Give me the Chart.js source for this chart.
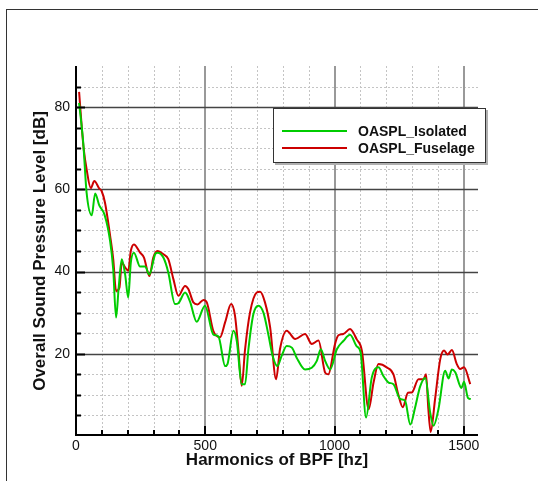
<!DOCTYPE html>
<html lang="en">
<head>
    <meta charset="UTF-8">
    <title>OASPL</title>
    <script src="https://cdn.jsdelivr.net/npm/chart.js"></script>
    <style>
        body { margin: 0; background: #fff; }
        #frame { position: absolute; left: 6px; top: 9px; width: 600px; height: 600px;
                 border-left: 1px solid #333; border-top: 1px solid #333; }
        #oaspl { position: absolute; left: 0; top: 0; }
    </style>
</head>
<body>
    <div id="frame"></div>
    <canvas id="oaspl" width="538" height="481"></canvas>
    <script>
        // Isolated rotor
        const isoFreq = [12, 28, 41, 61, 74, 90, 110, 132, 144, 155, 165, 177, 190, 202, 212, 224, 248, 267, 284, 306,
            315, 338, 357, 383, 396, 422, 441, 467, 499, 531, 551, 577, 586, 609, 622, 641, 654, 667, 686, 706,
            725, 744, 761, 779, 796, 815, 835, 854, 886, 912, 931, 947, 964, 983, 1009, 1034, 1060, 1086, 1101, 1122,
            1144, 1170, 1189, 1209, 1228, 1254, 1273, 1293, 1312, 1331, 1351, 1370, 1383, 1402, 1428, 1441, 1454, 1467, 1491, 1501,
            1516, 1527];
        const isoLevel = [81, 71.3, 59.2, 53.7, 59, 56.1, 53.9, 47.4, 40.5, 28.8, 36, 43, 39.3, 33.7, 42.2, 44.6, 41.2, 41.2, 39.3, 44.2,
            44.6, 43.4, 39.8, 32.1, 32.3, 34.9, 32.7, 27.8, 31.7, 24.7, 24.2, 17, 17.5, 25.6, 23.1, 12.6, 12.6, 21.1, 29.6, 31.7,
            30, 24.7, 19.4, 17, 19.6, 21.9, 21.5, 19, 16.2, 16.6, 18.2, 21.1, 18.2, 16.2, 21.1, 23.1, 24.6, 21.8, 20.3, 4.5,
            14.2, 16.7, 14.6, 13, 12.6, 9, 8.6, 2.8, 7, 12, 14.1, 5.7, 2.5, 6.5, 15.9, 14, 16.2, 15.5, 11.7, 13.2,
            9.3, 9];

        // Rotor with fuselage
        const fusFreq = [12, 22, 30, 41, 57, 71, 90, 99, 112, 132, 144, 155, 168, 177, 190, 202, 212, 224, 248, 263,
            284, 299, 315, 338, 357, 377, 396, 422, 435, 454, 470, 493, 506, 531, 557, 577, 600, 615, 628, 641,
            654, 673, 699, 712, 731, 751, 774, 789, 815, 848, 886, 912, 938, 964, 976, 1002, 1015, 1034, 1060, 1086,
            1106, 1132, 1151, 1170, 1202, 1228, 1247, 1264, 1284, 1299, 1325, 1344, 1354, 1363, 1372, 1389, 1409, 1424, 1437, 1454,
            1473, 1486, 1501, 1525];
        const fusLevel = [83.7, 75.4, 69.7, 64.9, 60.3, 62, 60.2, 59.6, 56.8, 48.7, 43, 35.3, 36.1, 42.2, 41, 40.2, 45, 46.6, 44.6, 43.4,
            38.9, 43.4, 45, 44.2, 43, 38.1, 34.1, 36.5, 35.7, 32.5, 32, 33.1, 32.5, 25.6, 24, 27.7, 32.1, 29.3, 21.1, 12.2,
            21.1, 30, 34.9, 35.1, 32.5, 26.4, 13.8, 21.1, 25.6, 23.6, 24.8, 22.4, 23.2, 15.4, 15, 22.4, 24.5, 24.8, 26, 23.5,
            20.7, 6.5, 13, 17.5, 16.7, 15, 10, 7, 10.5, 10.6, 13.8, 13.8, 15, 6.5, 1, 9, 18.7, 20.8, 19.8, 20.9,
            17.5, 16.3, 16.7, 12.6];

        const xTicks = [0, 500, 1000, 1500];
        const yTicks = [20, 40, 60, 80];
        const xMinorStep = 100, xMajorStep = 500;
        const yMinorStep = 5, yMajorStep = 20;
        const font = 'Liberation Sans, Arial, sans-serif';

        function pts(xs, ys) {
            return xs.map((x, i) => ({ x: x, y: ys[i] }));
        }

        // grid lines: dotted minor, solid major
        const gridPlugin = {
            id: 'grid',
            beforeDatasetsDraw(chart) {
                const { ctx, chartArea: a, scales: { x, y } } = chart;
                ctx.save();
                ctx.lineWidth = 1;
                ctx.strokeStyle = '#c4c4c4';
                ctx.setLineDash([2, 2]);
                for (let v = xMinorStep; v < x.max; v += xMinorStep) {
                    if (v % xMajorStep === 0) continue;
                    const px = Math.round(x.getPixelForValue(v)) + 0.5;
                    ctx.beginPath(); ctx.moveTo(px, a.top); ctx.lineTo(px, a.bottom); ctx.stroke();
                }
                for (let v = yMinorStep; v < y.max; v += yMinorStep) {
                    if (v % yMajorStep === 0) continue;
                    const py = Math.round(y.getPixelForValue(v)) + 0.5;
                    ctx.beginPath(); ctx.moveTo(a.left, py); ctx.lineTo(a.right, py); ctx.stroke();
                }
                ctx.setLineDash([]);
                ctx.strokeStyle = '#999';
                ctx.lineWidth = 2;
                for (let v = xMajorStep; v < x.max; v += xMajorStep) {
                    const px = Math.round(x.getPixelForValue(v));
                    ctx.beginPath(); ctx.moveTo(px, a.top); ctx.lineTo(px, a.bottom); ctx.stroke();
                }
                ctx.strokeStyle = '#444';
                ctx.lineWidth = 1.3;
                for (let v = yMajorStep; v < y.max; v += yMajorStep) {
                    const py = Math.round(y.getPixelForValue(v)) + 0.5;
                    ctx.beginPath(); ctx.moveTo(a.left, py); ctx.lineTo(a.right, py); ctx.stroke();
                }
                ctx.restore();
            },
            afterDatasetsDraw(chart) {
                const { ctx, chartArea: a, scales: { x, y } } = chart;
                ctx.save();
                ctx.strokeStyle = '#000';
                ctx.lineWidth = 2;
                // axis lines
                ctx.beginPath();
                ctx.moveTo(a.left, a.top);
                ctx.lineTo(a.left, a.bottom - 1);
                ctx.lineTo(a.right, a.bottom - 1);
                ctx.stroke();
                // inside tick marks
                for (let v = xMinorStep; v < x.max; v += xMinorStep) {
                    const px = Math.round(x.getPixelForValue(v));
                    const len = v % xMajorStep === 0 ? 9 : 5;
                    ctx.beginPath(); ctx.moveTo(px, a.bottom - 1); ctx.lineTo(px, a.bottom - 1 - len); ctx.stroke();
                }
                for (let v = yMinorStep; v < y.max; v += yMinorStep) {
                    const py = Math.round(y.getPixelForValue(v)) + 0.5;
                    const len = v % yMajorStep === 0 ? 9 : 5;
                    ctx.beginPath(); ctx.moveTo(a.left, py); ctx.lineTo(a.left + len, py); ctx.stroke();
                }
                ctx.restore();
            }
        };

        // boxed legend inside the plot
        const legendBox = {
            id: 'legendBox',
            afterDraw(chart) {
                const ctx = chart.ctx;
                const bx = 273, by = 108, bw = 213, bh = 55;
                ctx.save();
                ctx.fillStyle = '#b0b0b0';
                ctx.fillRect(bx + 2, by + 2, bw, bh);
                ctx.fillStyle = '#fff';
                ctx.fillRect(bx, by, bw, bh);
                ctx.strokeStyle = '#333';
                ctx.lineWidth = 1;
                ctx.strokeRect(bx + 0.5, by + 0.5, bw - 1, bh - 1);
                ctx.font = 'bold 14px ' + font;
                ctx.textBaseline = 'middle';
                chart.data.datasets.forEach((ds, i) => {
                    const ly = 131 + i * 17;
                    ctx.strokeStyle = ds.borderColor;
                    ctx.lineWidth = 2;
                    ctx.beginPath(); ctx.moveTo(282, ly); ctx.lineTo(347, ly); ctx.stroke();
                    ctx.fillStyle = '#111';
                    ctx.fillText(ds.label, 358, ly + 1);
                });
                ctx.restore();
            }
        };

        new Chart(document.getElementById('oaspl'), {
            type: 'line',
            data: {
                datasets: [{
                    label: 'OASPL_Isolated',
                    data: pts(isoFreq, isoLevel),
                    borderColor: '#00cc00',
                    borderWidth: 2,
                    pointRadius: 0,
                    cubicInterpolationMode: 'monotone',
                    fill: false
                }, {
                    label: 'OASPL_Fuselage',
                    data: pts(fusFreq, fusLevel),
                    borderColor: '#cc0000',
                    borderWidth: 2,
                    pointRadius: 0,
                    cubicInterpolationMode: 'monotone',
                    fill: false
                }]
            },
            options: {
                responsive: false,
                animation: false,
                layout: { padding: { top: 66, right: 60, left: 0, bottom: 0 } },
                plugins: { legend: { display: false }, tooltip: { enabled: false } },
                scales: {
                    x: {
                        type: 'linear',
                        min: 0,
                        max: 1555,
                        grid: { display: false, drawTicks: false },
                        border: { display: false },
                        afterBuildTicks: s => { s.ticks = xTicks.map(v => ({ value: v })); },
                        ticks: {
                            autoSkip: false,
                            maxRotation: 0,
                            padding: 2,
                            color: '#111',
                            font: { family: font, size: 14 },
                            callback: v => String(v)
                        },
                        title: {
                            display: true,
                            text: 'Harmonics of BPF [hz]',
                            color: '#111',
                            font: { family: font, size: 17, weight: 'bold' },
                            padding: { top: 0, bottom: 10 }
                        },
                        afterFit: s => { s.height = 45; }
                    },
                    y: {
                        min: 0,
                        max: 90,
                        grid: { display: false, drawTicks: false },
                        border: { display: false },
                        afterBuildTicks: s => { s.ticks = yTicks.map(v => ({ value: v })); },
                        ticks: {
                            padding: 6,
                            color: '#111',
                            font: { family: font, size: 14 },
                            callback: v => String(v)
                        },
                        title: {
                            display: true,
                            text: 'Overall Sound Pressure Level [dB]',
                            color: '#111',
                            font: { family: font, size: 17, weight: 'bold' },
                            padding: { top: 30, bottom: 0 }
                        },
                        afterFit: s => { s.width = 76; }
                    }
                }
            },
            plugins: [gridPlugin, legendBox]
        });
    </script>
</body>
</html>
